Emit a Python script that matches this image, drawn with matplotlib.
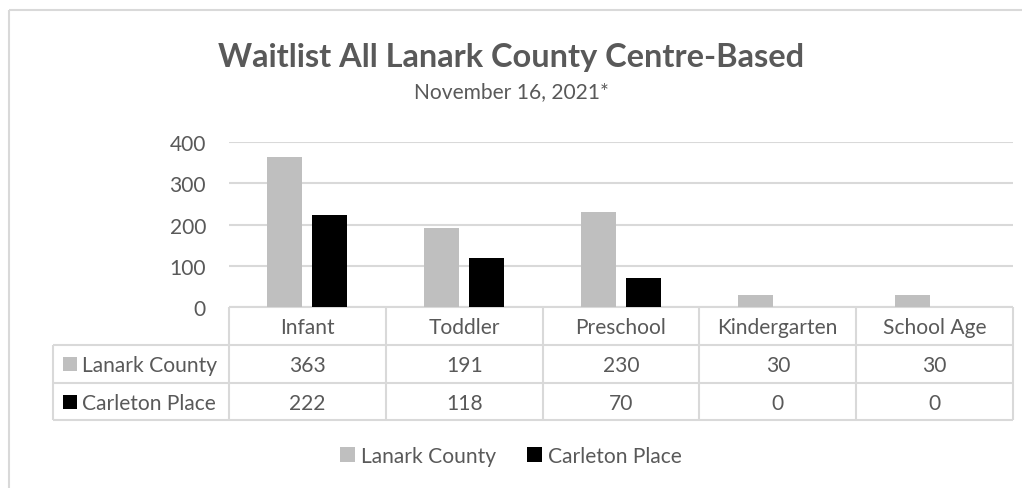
import matplotlib
matplotlib.use("Agg")
import matplotlib.pyplot as plt
from matplotlib.patches import Rectangle
import numpy as np

categories = ['Infant', 'Toddler', 'Preschool', 'Kindergarten', 'School Age']
lanark = [363, 191, 230, 30, 30]
carleton = [222, 118, 70, 0, 0]
series_names = ['Lanark County', 'Carleton Place']
series_values = [lanark, carleton]
series_colors = ['#bfbfbf', '#000000']
yticks = [0, 100, 200, 300, 400]
title = 'Waitlist All Lanark County Centre-Based'
subtitle = 'November 16, 2021*'

FONT = 'Lato'
TXT = '#595959'
GRID = '#d9d9d9'
W, H = 1022, 489
PX = 72 / 100  # points per pixel

plt.rcParams['font.family'] = [FONT, 'DejaVu Sans']

fig = plt.figure(figsize=(W / 100, H / 100), dpi=100)

# overlay in pixel coordinates
ov = fig.add_axes([0, 0, 1, 1], zorder=0)
ov.set_xlim(0, W)
ov.set_ylim(H, 0)
ov.axis('off')

# outer chart border
ov.add_patch(Rectangle((9, 11), W + 20, H + 20, fill=False, edgecolor=GRID, lw=1.5))

fs = 21 * PX

# main axes
x0, x1 = 229, 1013
y_top, y_zero = 143, 308
ax = fig.add_axes([x0 / W, (H - y_zero) / H, (x1 - x0) / W, (y_zero - y_top) / H], zorder=1)
ax.patch.set_alpha(0)
n = len(categories)
x = np.arange(n)
bw = 0.223
off = 0.1435
for i, (vals, col, name) in enumerate(zip(series_values, series_colors, series_names)):
    ax.bar(x + (i * 2 - 1) * off, vals, width=bw, color=col, label=name, zorder=3)
ax.set_xlim(-0.5, n - 0.5)
ax.set_ylim(0, 400)
ax.set_yticks(yticks)
ax.set_yticklabels([str(t) for t in yticks])
ax.yaxis.grid(True, color=GRID, lw=1.5, zorder=0)
ax.tick_params(axis='y', length=0, pad=23 * PX, labelsize=fs, labelcolor=TXT)
ax.tick_params(axis='x', length=0, labelbottom=False)
for s in ax.spines.values():
    s.set_visible(False)

# table
row_y = [308, 346, 384, 421]
left_x = 53
col_x = [x0 + (x1 - x0) * k / n for k in range(n + 1)]
lc = dict(color=GRID, lw=1.5, solid_capstyle='butt')
ov.plot([x0, x1], [row_y[0], row_y[0]], **lc)
for yy in row_y[1:]:
    ov.plot([left_x, x1], [yy, yy], **lc)
for cx in col_x:
    ov.plot([cx, cx], [row_y[0], row_y[-1]], **lc)
ov.plot([left_x, left_x], [row_y[1], row_y[-1]], **lc)

for k, cat in enumerate(categories):
    cx = (col_x[k] + col_x[k + 1]) / 2
    ov.text(cx, (row_y[0] + row_y[1]) / 2 + 1, cat, ha='center', va='center', fontsize=fs, color=TXT)
    for r, vals in enumerate(series_values):
        ov.text(cx, (row_y[r + 1] + row_y[r + 2]) / 2 + 1, str(vals[k]), ha='center', va='center',
                fontsize=fs, color=TXT)
for r, (name, col) in enumerate(zip(series_names, series_colors)):
    yc = (row_y[r + 1] + row_y[r + 2]) / 2
    ov.add_patch(Rectangle((63, yc - 7), 14, 14, facecolor=col, edgecolor='none'))
    ov.text(82, yc + 1, name, ha='left', va='center', fontsize=fs, color=TXT)

# titles
ov.text(511, 57, title, ha='center', va='center', fontsize=32.5 * PX, fontweight='bold', color=TXT)
ov.text(511, 92, subtitle, ha='center', va='center', fontsize=fs, color=TXT)

# legend
handles, labels = ax.get_legend_handles_labels()
fig.legend(handles, labels, loc='center', bbox_to_anchor=(511 / W, 1 - 457 / H), ncol=2,
           frameon=False, fontsize=fs, labelcolor=TXT, handlelength=0.68, handleheight=0.68,
           handletextpad=0.3, columnspacing=1.5)

fig.savefig('out.png', dpi=100)
